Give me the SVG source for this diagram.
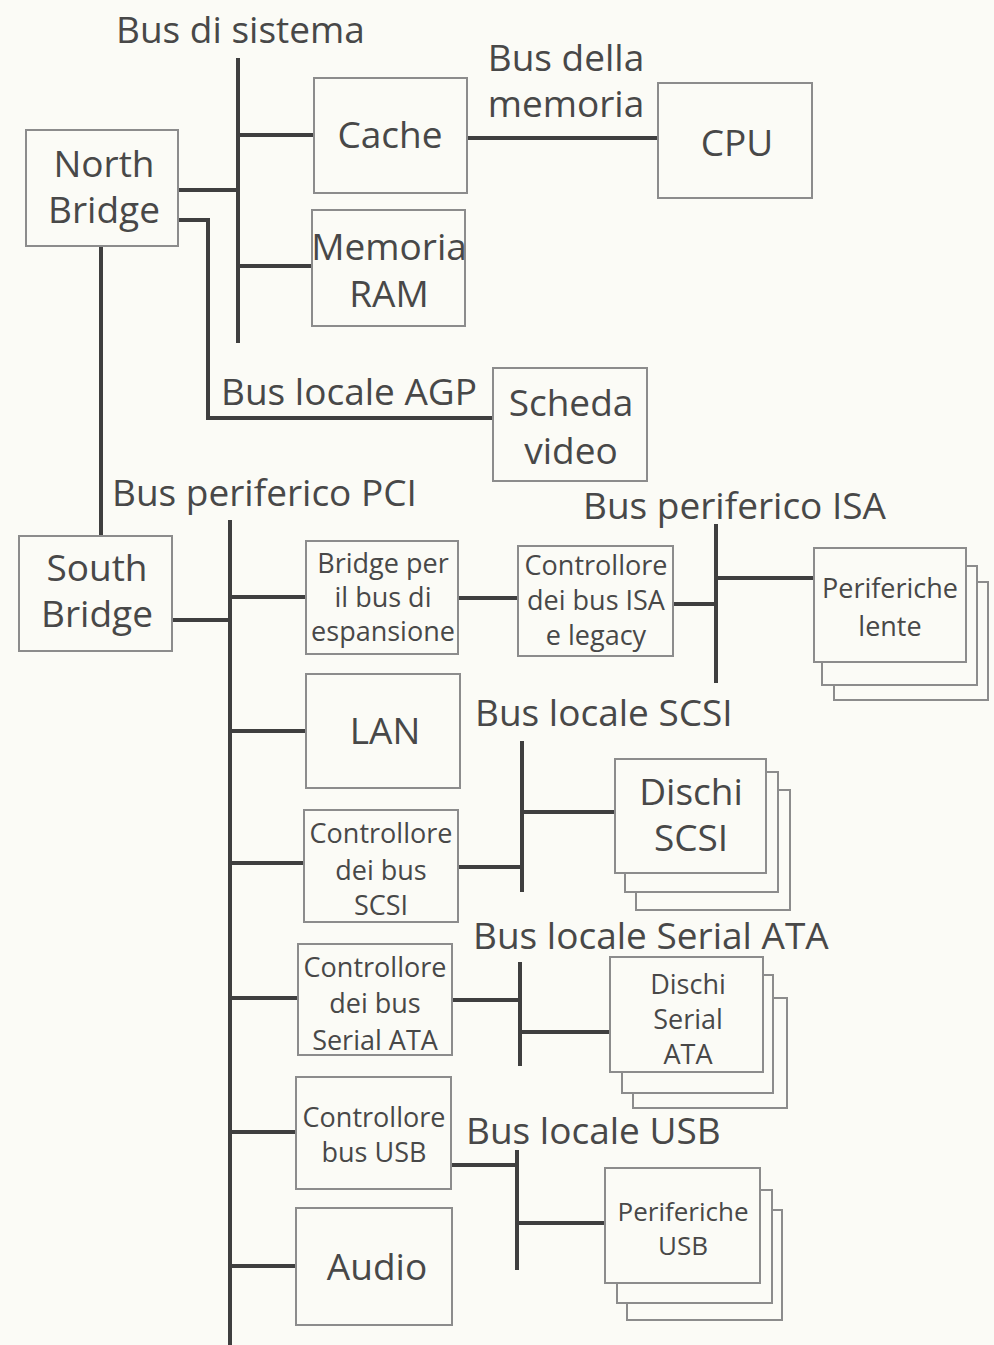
<svg xmlns="http://www.w3.org/2000/svg" width="994" height="1345" viewBox="0 0 994 1345">
<style>
.bg{fill:#fbfbf6}
.box{fill:#fbfbf6;stroke:#8c8c8c;stroke-width:2}
.bus{stroke:#3f3f3f;stroke-width:4;fill:none;stroke-linecap:butt}
.t{font-family:"Open Sans","DejaVu Sans",sans-serif;fill:#484848;text-anchor:middle}
.l{font-size:37px}
.s{font-size:27px}
.lab{font-family:"Open Sans","DejaVu Sans",sans-serif;fill:#484848;font-size:37px}
</style>
<rect class="bg" x="0" y="0" width="994" height="1345"/>
<g id="connectors">
<path class="bus" d="M238 58V343"/>
<path class="bus" d="M178 190H238"/>
<path class="bus" d="M238 135H314"/>
<path class="bus" d="M238 266H312"/>
<path class="bus" d="M467 138H660"/>
<path class="bus" d="M178 220H208V418H495"/>
<path class="bus" d="M101 246V537"/>
<path class="bus" d="M230 520V1345"/>
<path class="bus" d="M172 620H230"/>
<path class="bus" d="M230 597H306"/>
<path class="bus" d="M458 598H519"/>
<path class="bus" d="M673 604H716"/>
<path class="bus" d="M716 524V683"/>
<path class="bus" d="M716 578H815"/>
<path class="bus" d="M230 731H306"/>
<path class="bus" d="M230 863H304"/>
<path class="bus" d="M458 867H522"/>
<path class="bus" d="M522 741V892"/>
<path class="bus" d="M522 812H615"/>
<path class="bus" d="M230 998H298"/>
<path class="bus" d="M452 1000H520"/>
<path class="bus" d="M520 962V1066"/>
<path class="bus" d="M520 1032H612"/>
<path class="bus" d="M230 1132H296"/>
<path class="bus" d="M450 1165H517"/>
<path class="bus" d="M517 1150V1270"/>
<path class="bus" d="M517 1223H607"/>
<path class="bus" d="M230 1266H296"/>
</g>
<g id="bus-labels">
<text class="lab" x="116" y="43">Bus di sistema</text>
<text class="t l" x="566" y="71">Bus della</text>
<text class="t l" x="566" y="117">memoria</text>
<text class="lab" x="221" y="405">Bus locale AGP</text>
<text class="lab" x="112" y="506">Bus periferico PCI</text>
<text class="lab" x="583" y="519">Bus periferico ISA</text>
<text class="lab" x="475" y="726">Bus locale SCSI</text>
<text class="lab" x="473" y="949">Bus locale Serial ATA</text>
<text class="lab" x="466" y="1144">Bus locale USB</text>
</g>
<g id="north-bridge">
<rect class="box" x="26" y="130" width="152" height="116"/>
<text class="t l" x="104" y="177">North</text>
<text class="t l" x="104" y="223">Bridge</text>
</g>
<g id="cache">
<rect class="box" x="314" y="78" width="153" height="115"/>
<text class="t l" x="390" y="148">Cache</text>
</g>
<g id="cpu">
<rect class="box" x="658" y="83" width="154" height="115"/>
<text class="t l" x="737" y="156">CPU</text>
</g>
<g id="ram">
<rect class="box" x="312" y="210" width="153" height="116"/>
<text class="t l" x="389" y="260">Memoria</text>
<text class="t l" x="389" y="307">RAM</text>
</g>
<g id="video">
<rect class="box" x="493" y="368" width="154" height="113"/>
<text class="t l" x="571" y="416">Scheda</text>
<text class="t l" x="571" y="464">video</text>
</g>
<g id="south-bridge">
<rect class="box" x="19" y="536" width="153" height="115"/>
<text class="t l" x="97" y="581">South</text>
<text class="t l" x="97" y="627">Bridge</text>
</g>
<g id="bridge-espansione">
<rect class="box" x="306" y="541" width="152" height="113"/>
<text class="t s" x="383" y="573">Bridge per</text>
<text class="t s" x="383" y="607">il bus di</text>
<text class="t s" x="383" y="641">espansione</text>
</g>
<g id="ctrl-isa">
<rect class="box" x="518" y="546" width="155" height="110"/>
<text class="t s" x="596" y="575">Controllore</text>
<text class="t s" x="596" y="610">dei bus ISA</text>
<text class="t s" x="596" y="645">e legacy</text>
</g>
<g id="periferiche-lente">
<rect class="box" x="834" y="582" width="154" height="118"/>
<rect class="box" x="822" y="566" width="155" height="119"/>
<rect class="box" x="814" y="548" width="152" height="114"/>
<text class="t s" x="890" y="598">Periferiche</text>
<text class="t s" x="890" y="636">lente</text>
</g>
<g id="lan">
<rect class="box" x="306" y="674" width="154" height="114"/>
<text class="t l" x="385" y="744">LAN</text>
</g>
<g id="ctrl-scsi">
<rect class="box" x="304" y="810" width="154" height="112"/>
<text class="t s" x="381" y="843">Controllore</text>
<text class="t s" x="381" y="880">dei bus</text>
<text class="t s" x="381" y="915">SCSI</text>
</g>
<g id="dischi-scsi">
<rect class="box" x="636" y="790" width="154" height="120"/>
<rect class="box" x="625" y="772" width="153" height="120"/>
<rect class="box" x="615" y="759" width="151" height="114"/>
<text class="t l" x="691" y="805">Dischi</text>
<text class="t l" x="691" y="851">SCSI</text>
</g>
<g id="ctrl-sata">
<rect class="box" x="298" y="944" width="154" height="111"/>
<text class="t s" x="375" y="977">Controllore</text>
<text class="t s" x="375" y="1013">dei bus</text>
<text class="t s" x="375" y="1050">Serial ATA</text>
</g>
<g id="dischi-sata">
<rect class="box" x="633" y="998" width="154" height="110"/>
<rect class="box" x="622" y="975" width="151" height="118"/>
<rect class="box" x="610" y="957" width="153" height="115"/>
<text class="t" style="font-size:27px" x="688" y="994">Dischi</text>
<text class="t" style="font-size:27px" x="688" y="1029">Serial</text>
<text class="t" style="font-size:27px" x="688" y="1064">ATA</text>
</g>
<g id="ctrl-usb">
<rect class="box" x="296" y="1077" width="155" height="112"/>
<text class="t s" x="374" y="1127">Controllore</text>
<text class="t s" x="374" y="1162">bus USB</text>
</g>
<g id="periferiche-usb">
<rect class="box" x="627" y="1210" width="155" height="110"/>
<rect class="box" x="617" y="1190" width="155" height="113"/>
<rect class="box" x="605" y="1168" width="155" height="115"/>
<text class="t" style="font-size:26px" x="683" y="1221">Periferiche</text>
<text class="t" style="font-size:26px" x="683" y="1255">USB</text>
</g>
<g id="audio">
<rect class="box" x="296" y="1208" width="156" height="117"/>
<text class="t l" x="377" y="1280">Audio</text>
</g>
</svg>
